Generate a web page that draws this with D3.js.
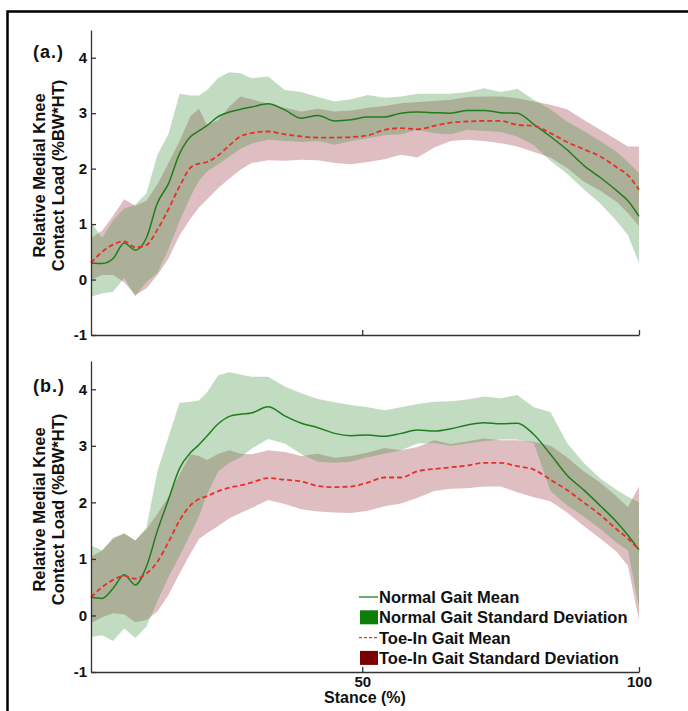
<!DOCTYPE html>
<html>
<head>
<meta charset="utf-8">
<script src="https://cdn.jsdelivr.net/npm/d3@7"></script>
<style>
    body { margin: 0; background: #fff; }
    svg { display: block; }
    text { font-family: Arial, "Liberation Sans", sans-serif; font-weight: bold; fill: #111; }
</style>
</head>
<body>
<div id="chart"></div>
<script>
// Stance (% of stance phase) sample points
var stance = [1, 3, 5, 7, 9, 11, 13, 15, 17, 19, 20.5, 22, 24, 26, 28, 30, 33, 36, 39, 42,
    45, 48, 51, 54, 57, 60, 63, 66, 69, 72, 75, 78, 81, 84, 87, 90, 93, 96, 98, 100];

// (a.) normal gait
var normalMeanA = [0.30, 0.29, 0.38, 0.66, 0.53, 0.75, 1.38, 1.73, 2.27, 2.58, 2.68, 2.78, 2.94, 3.02, 3.07, 3.11, 3.17, 3.06, 2.91, 2.96,
    2.86, 2.88, 2.93, 2.93, 3.00, 3.02, 3.01, 3.00, 3.05, 3.05, 3.01, 3.00, 2.80, 2.58, 2.34, 2.06, 1.84, 1.60, 1.42, 1.14];
var normalUpperA = [1.04, 0.75, 1.07, 1.28, 1.35, 1.55, 2.25, 2.63, 3.35, 3.32, 3.32, 3.42, 3.64, 3.74, 3.72, 3.63, 3.66, 3.42, 3.38, 3.29,
    3.21, 3.25, 3.33, 3.28, 3.30, 3.35, 3.35, 3.35, 3.38, 3.45, 3.38, 3.44, 3.24, 3.07, 2.85, 2.68, 2.50, 2.30, 2.12, 1.92];
var normalLowerA = [-0.31, -0.25, -0.22, 0.03, -0.30, -0.05, 0.12, 0.55, 1.05, 1.50, 1.78, 1.95, 2.08, 2.22, 2.36, 2.45, 2.52, 2.50, 2.48, 2.50,
    2.43, 2.50, 2.55, 2.60, 2.62, 2.70, 2.64, 2.62, 2.70, 2.68, 2.66, 2.58, 2.42, 2.14, 1.91, 1.63, 1.37, 1.05, 0.80, 0.30];
// (a.) toe-in gait
var toeMeanA = [0.30, 0.50, 0.63, 0.69, 0.58, 0.62, 0.90, 1.27, 1.68, 2.02, 2.09, 2.12, 2.24, 2.42, 2.58, 2.64, 2.67, 2.62, 2.58, 2.56,
    2.56, 2.57, 2.60, 2.70, 2.73, 2.71, 2.77, 2.83, 2.85, 2.86, 2.86, 2.79, 2.77, 2.64, 2.48, 2.35, 2.22, 2.02, 1.88, 1.62];
var toeUpperA = [0.75, 0.88, 1.15, 1.45, 1.33, 1.42, 1.72, 2.10, 2.50, 2.95, 3.08, 2.78, 2.88, 3.12, 3.30, 3.25, 3.17, 3.10, 3.03, 3.08,
    3.03, 3.05, 3.10, 3.13, 3.18, 3.20, 3.22, 3.24, 3.29, 3.30, 3.30, 3.27, 3.21, 3.15, 3.07, 2.88, 2.70, 2.52, 2.40, 2.40];
var toeLowerA = [-0.01, 0.08, 0.08, -0.05, -0.28, -0.16, 0.08, 0.38, 0.80, 1.10, 1.30, 1.45, 1.65, 1.82, 1.98, 2.10, 2.15, 2.14, 2.16, 2.15,
    2.10, 2.08, 2.12, 2.17, 2.25, 2.20, 2.38, 2.50, 2.52, 2.50, 2.46, 2.40, 2.30, 2.20, 2.01, 1.77, 1.60, 1.40, 1.20, 0.96];

// (b.) normal gait
var normalMeanB = [0.32, 0.30, 0.48, 0.72, 0.54, 0.86, 1.50, 2.05, 2.60, 2.88, 3.02, 3.18, 3.39, 3.52, 3.56, 3.58, 3.69, 3.53, 3.40, 3.32,
    3.22, 3.18, 3.19, 3.17, 3.22, 3.28, 3.26, 3.30, 3.37, 3.41, 3.39, 3.40, 3.20, 2.85, 2.48, 2.22, 1.94, 1.65, 1.42, 1.16];
var normalUpperB = [1.24, 1.15, 1.38, 1.45, 1.32, 1.55, 2.55, 3.16, 3.76, 3.78, 3.80, 3.95, 4.25, 4.30, 4.26, 4.22, 4.22, 4.05, 3.93, 3.83,
    3.77, 3.72, 3.68, 3.63, 3.68, 3.74, 3.78, 3.79, 3.82, 3.87, 3.84, 3.90, 3.68, 3.60, 3.05, 2.70, 2.42, 2.22, 2.10, 2.00];
var normalLowerB = [-0.38, -0.35, -0.45, -0.23, -0.40, -0.20, 0.25, 0.68, 1.05, 1.45, 1.75, 2.15, 2.55, 2.70, 2.80, 2.95, 3.12, 3.04, 2.85, 2.72,
    2.70, 2.72, 2.80, 2.86, 2.92, 3.04, 3.05, 3.00, 3.04, 3.08, 3.11, 3.11, 3.05, 2.20, 1.95, 1.75, 1.53, 1.28, 1.15, 0.15];
// (b.) toe-in gait
var toeMeanB = [0.32, 0.50, 0.63, 0.70, 0.65, 0.74, 0.95, 1.30, 1.68, 1.95, 2.06, 2.11, 2.20, 2.26, 2.30, 2.35, 2.43, 2.40, 2.37, 2.29,
    2.27, 2.28, 2.35, 2.44, 2.44, 2.55, 2.59, 2.62, 2.65, 2.70, 2.70, 2.64, 2.58, 2.40, 2.22, 2.00, 1.78, 1.52, 1.36, 1.16];
var toeUpperB = [1.04, 1.15, 1.35, 1.45, 1.33, 1.52, 1.80, 2.10, 2.50, 2.85, 2.82, 2.75, 2.86, 2.92, 2.86, 2.85, 2.92, 2.89, 2.82, 2.86,
    2.79, 2.82, 2.88, 2.96, 2.92, 2.98, 3.10, 3.03, 3.08, 3.13, 3.10, 3.10, 3.07, 3.00, 2.80, 2.55, 2.35, 2.10, 1.92, 2.28];
var toeLowerB = [-0.14, -0.03, 0.04, 0.02, -0.12, -0.08, 0.07, 0.36, 0.74, 1.10, 1.35, 1.46, 1.58, 1.72, 1.81, 1.90, 2.04, 1.97, 1.88, 1.84,
    1.82, 1.81, 1.85, 1.93, 1.98, 2.08, 2.20, 2.24, 2.25, 2.28, 2.28, 2.18, 2.09, 2.02, 1.82, 1.58, 1.36, 1.12, 0.88, -0.08];

var yTicks = [-1, 0, 1, 2, 3, 4];
var xTicks = [50, 100];
var legendLabels = ["Normal Gait Mean", "Normal Gait Standard Deviation", "Toe-In Gait Mean", "Toe-In Gait Standard Deviation"];

(function () {
    "use strict";

    var width = 688;
    var height = 711;

    var green = "#1f7d1f";
    var red = "#e8302a";

    var svg = d3.select("#chart").append("svg")
        .attr("width", width)
        .attr("height", height);

    // Figure frame (only top and left edges are visible)
    svg.append("path")
        .attr("d", "M7.5,711 L7.5,11.5 L688,11.5")
        .attr("fill", "none")
        .attr("stroke", "#000")
        .attr("stroke-width", 2.5);

    var x = d3.scaleLinear().domain([1, 100]).range([91, 639]);

    function drawPanel(p) {
        var y = d3.scaleLinear().domain([-1, 4.5]).range([p.bottom, p.top]);

        function band(lower, upper) {
            return d3.area()
                .x(function (d, i) { return x(stance[i]); })
                .y0(function (d, i) { return y(lower[i]); })
                .y1(function (d, i) { return y(upper[i]); })(stance);
        }
        function line(values) {
            return d3.line()
                .curve(d3.curveMonotoneX)
                .x(function (d, i) { return x(stance[i]); })
                .y(function (d, i) { return y(values[i]); })(stance);
        }

        // SD bands: toe-in underneath, normal over it gives the olive overlap
        svg.append("path")
            .attr("d", band(p.toeLower, p.toeUpper))
            .attr("fill", "rgb(150,40,50)")
            .attr("fill-opacity", 0.3);
        svg.append("path")
            .attr("d", band(p.normalLower, p.normalUpper))
            .attr("fill", "rgb(70,150,70)")
            .attr("fill-opacity", 0.33);

        // Means
        svg.append("path")
            .attr("d", line(p.normalMean))
            .attr("fill", "none")
            .attr("stroke", green)
            .attr("stroke-width", 1.5);
        svg.append("path")
            .attr("d", line(p.toeMean))
            .attr("fill", "none")
            .attr("stroke", red)
            .attr("stroke-width", 1.8)
            .attr("stroke-dasharray", "5,3");

        // Axes, ticks point inward
        var yAxis = svg.append("g")
            .attr("transform", "translate(" + x.range()[0] + ",0)")
            .call(d3.axisLeft(y)
                .tickValues(yTicks)
                .tickSizeInner(-5)
                .tickSizeOuter(0)
                .tickPadding(4)
                .tickFormat(function (d) { return String(d); }));

        var xAxis = svg.append("g")
            .attr("transform", "translate(0," + p.bottom + ")")
            .call(d3.axisBottom(x)
                .tickValues(xTicks)
                .tickSizeInner(-5)
                .tickSizeOuter(0)
                .tickPadding(4)
                .tickFormat(function (d) { return p.xLabels ? String(d) : ""; }));

        [yAxis, xAxis].forEach(function (g) {
            g.select(".domain").attr("stroke", "#333").attr("stroke-width", 1.3);
            g.selectAll(".tick line").attr("stroke", "#333").attr("stroke-width", 1.3);
            g.selectAll(".tick text")
                .attr("fill", "#111")
                .style("font-size", "15px")
                .style("font-weight", "bold")
                .style("font-family", "Arial, 'Liberation Sans', sans-serif");
        });

        // Panel tag
        svg.append("text")
            .attr("x", 33)
            .attr("y", p.tagY)
            .style("font-size", "18px")
            .style("letter-spacing", "1px")
            .text(p.tag);

        // Y title, two lines
        var mid = (p.top + p.bottom) / 2 - 7;
        ["Relative Medial Knee", "Contact Load (%BW*HT)"].forEach(function (t, i) {
            svg.append("text")
                .attr("transform", "translate(" + (45 + i * 19) + "," + mid + ") rotate(-90)")
                .attr("text-anchor", "middle")
                .style("font-size", "16.5px")
                .text(t);
        });
    }

    drawPanel({
        top: 30, bottom: 335, tag: "(a.)", tagY: 58, xLabels: false,
        normalMean: normalMeanA, normalUpper: normalUpperA, normalLower: normalLowerA,
        toeMean: toeMeanA, toeUpper: toeUpperA, toeLower: toeLowerA
    });

    drawPanel({
        top: 361, bottom: 672, tag: "(b.)", tagY: 392, xLabels: true,
        normalMean: normalMeanB, normalUpper: normalUpperB, normalLower: normalLowerB,
        toeMean: toeMeanB, toeUpper: toeUpperB, toeLower: toeLowerB
    });

    // X title
    svg.append("text")
        .attr("x", 365)
        .attr("y", 703)
        .attr("text-anchor", "middle")
        .style("font-size", "16px")
        .text("Stance (%)");

    // Legend (lower panel)
    var legend = svg.append("g").attr("transform", "translate(359,597)");
    var rowH = 20.3;

    legendLabels.forEach(function (label, i) {
        var row = legend.append("g").attr("transform", "translate(0," + (i * rowH) + ")");
        if (i === 0 || i === 2) {
            row.append("line")
                .attr("x1", 0).attr("x2", 19)
                .attr("stroke", i === 0 ? green : red)
                .attr("stroke-width", 1.3)
                .attr("stroke-dasharray", i === 2 ? "3,2" : null);
        } else {
            row.append("rect")
                .attr("x", 1).attr("y", -7)
                .attr("width", 18).attr("height", 14)
                .attr("fill", i === 1 ? "#0a7d0a" : "#780000");
        }
        row.append("text")
            .attr("x", 20)
            .attr("y", 6)
            .style("font-size", "16.5px")
            .text(label);
    });
})();
</script>
</body>
</html>
